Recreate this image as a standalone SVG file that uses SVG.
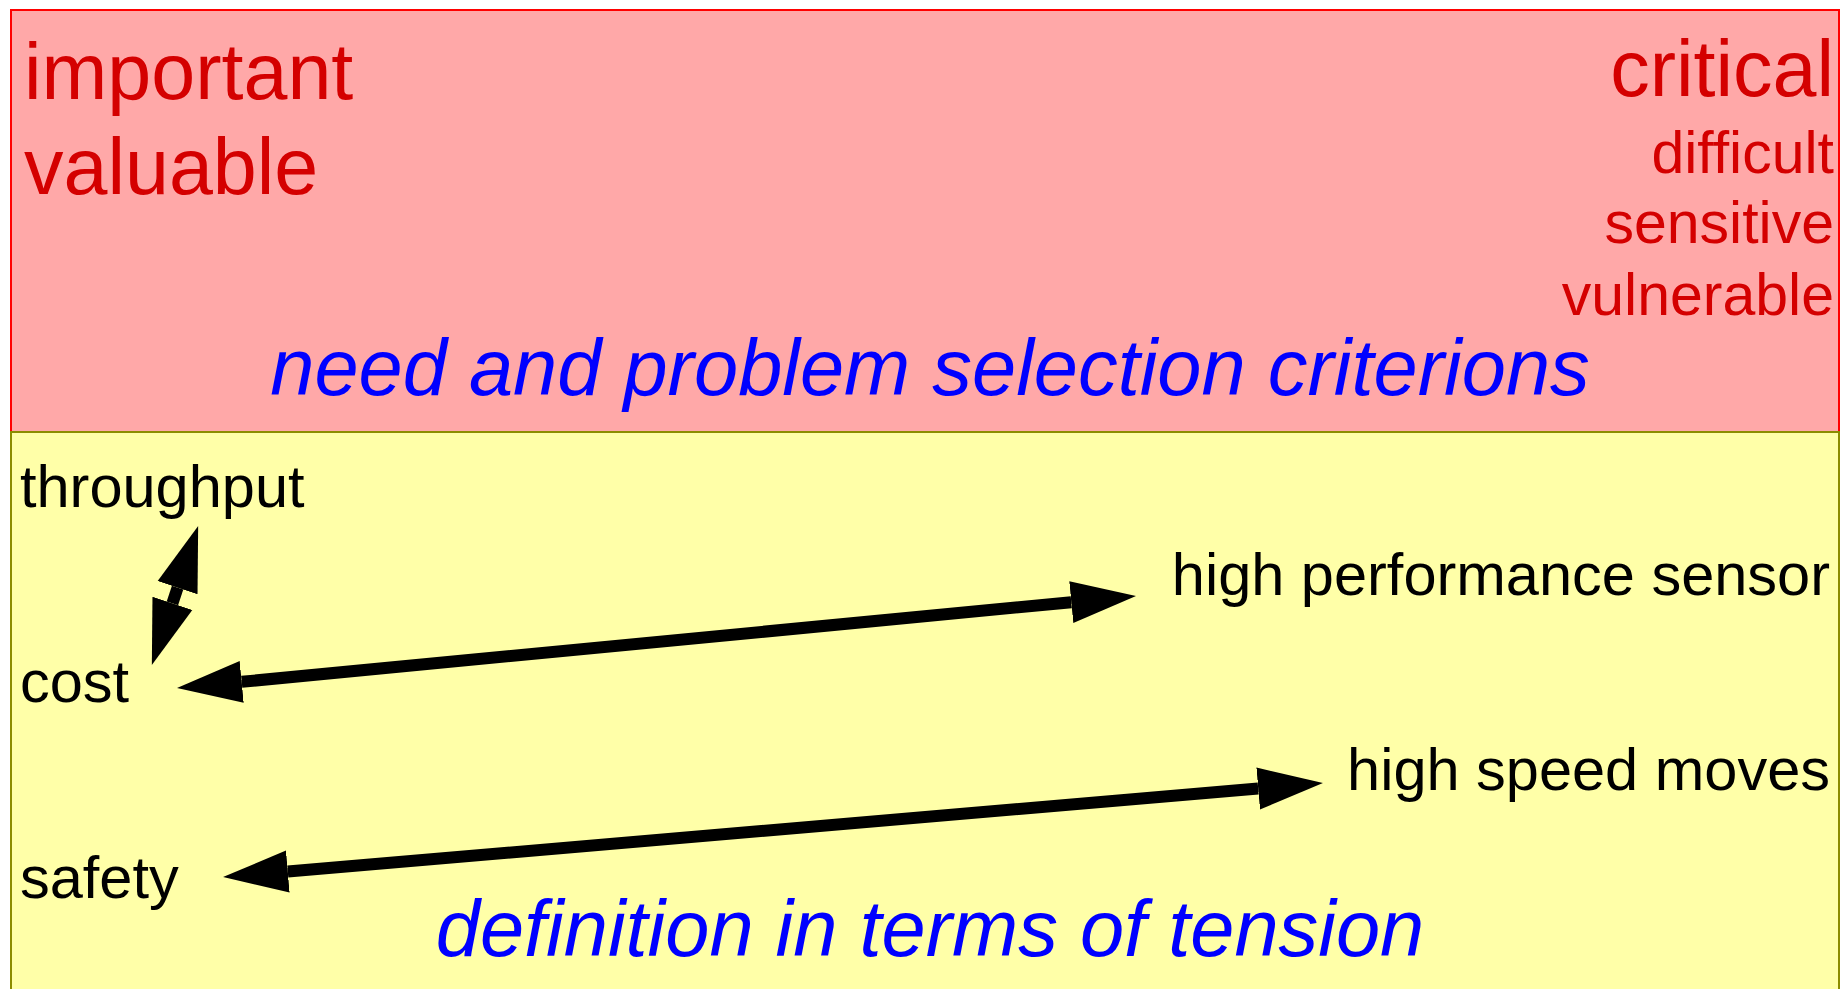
<svg xmlns="http://www.w3.org/2000/svg" width="1841" height="989" viewBox="0 0 1841 989">
<style>
text{font-family:"Liberation Sans",Arial,sans-serif}
.red{fill:#d40000}
.big{font-size:79px}
.small{font-size:59px}
.blk{fill:#000;font-size:59.5px}
.blue{fill:#0000ff;font-size:79.4px;font-style:italic}
.conn{stroke:#000;stroke-width:12;fill:none;marker-start:url(#ah);marker-end:url(#ah)}
</style>
<defs>
<marker id="ah" markerUnits="userSpaceOnUse" markerWidth="70" markerHeight="50" viewBox="0 -25 70 50" refX="0" refY="0" orient="auto-start-reverse">
<path d="M0,-21 L65,0 L0,21 Z" fill="#000"/>
</marker>
</defs>
<rect width="1841" height="989" fill="#ffffff"/>
<g id="need-box">
<rect x="11" y="10" width="1828" height="422" fill="#ffa8a8" stroke="#ff0000" stroke-width="2"/>
<text class="red big" x="24" y="99">important</text>
<text class="red big" x="24" y="194">valuable</text>
<text class="red big" x="1834" y="96" text-anchor="end">critical</text>
<text class="red small" x="1834" y="173" text-anchor="end">difficult</text>
<text class="red small" x="1834" y="243" text-anchor="end">sensitive</text>
<text class="red small" x="1834" y="315" text-anchor="end">vulnerable</text>
<text class="blue" x="930" y="395" text-anchor="middle">need and problem selection criterions</text>
</g>
<g id="tension-box">
<rect x="11" y="432" width="1828" height="600" fill="#ffffa8" stroke="#8c8c00" stroke-width="2"/>
<text class="blue" x="930" y="956" text-anchor="middle">definition in terms of tension</text>
</g>
<g id="throughput"><text class="blk" x="20" y="507">throughput</text></g>
<g id="cost"><text class="blk" x="20" y="702">cost</text></g>
<g id="safety"><text class="blk" x="20" y="898">safety</text></g>
<g id="sensor"><text class="blk" x="1830" y="595" text-anchor="end">high performance sensor</text></g>
<g id="moves"><text class="blk" x="1830" y="790" text-anchor="end">high speed moves</text></g>
<g id="connectors">
<line class="conn" x1="177.6" y1="587.7" x2="172.4" y2="603.3"/>
<line class="conn" x1="241.7" y1="681.8" x2="1071.3" y2="602.2"/>
<line class="conn" x1="287.8" y1="871.5" x2="1258.2" y2="788.5"/>
</g>
</svg>
